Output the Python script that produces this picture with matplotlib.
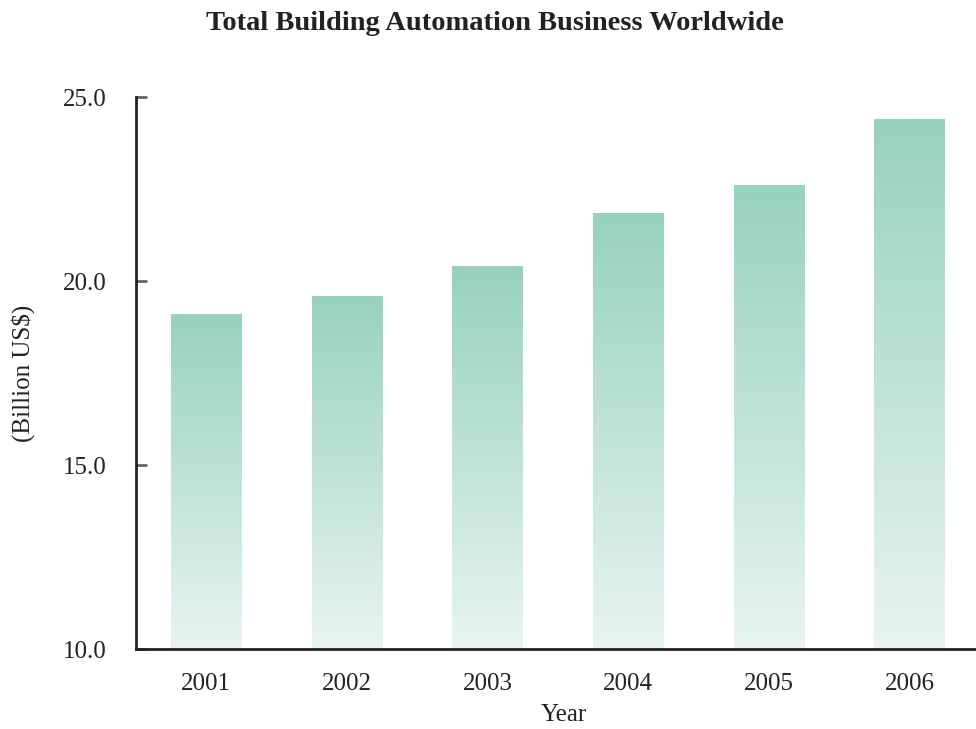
import matplotlib.pyplot as plt
import numpy as np
from matplotlib.colors import LinearSegmentedColormap

years = ['2001', '2002', '2003', '2004', '2005', '2006']
revenue = [19.1, 19.6, 20.4, 21.85, 22.6, 24.4]
yticks = [10.0, 15.0, 20.0, 25.0]

plt.rcParams['font.family'] = ['Liberation Serif', 'DejaVu Serif']

fig = plt.figure(figsize=(9.76, 7.29), dpi=100)
ax = fig.add_axes([0.1393, 0.1097, 0.8648, 0.757])

# light-to-green fade, top of each bar is the strongest shade
fade = LinearSegmentedColormap.from_list('fade', ['#e8f5f0', '#97d2be'])
grad = np.linspace(0, 1, 256).reshape(-1, 1)

x = np.arange(len(years))
bars = ax.bar(x, revenue, width=0.5, bottom=0, color='none', edgecolor='none')
for b, val in zip(bars, revenue):
    x0 = b.get_x()
    im = ax.imshow(grad, cmap=fade, origin='lower', aspect='auto',
                   extent=(x0, x0 + b.get_width(), 10, val), zorder=2)
    im.set_clip_path(b)

ax.set_xlim(-0.5, 5.5)
ax.set_ylim(10, 25)
ax.set_xticks(x)
ax.set_xticklabels(years)
ax.set_yticks(yticks)
ax.set_yticklabels([f'{t:.1f}' for t in yticks])

ax.tick_params(axis='x', length=0, pad=17, labelsize=18, colors='#222222')
ax.tick_params(axis='y', direction='in', length=8, width=2, color='#666666',
               pad=21, labelsize=18, labelcolor='#222222')

for side in ['top', 'right']:
    ax.spines[side].set_visible(False)
for side in ['left', 'bottom']:
    ax.spines[side].set_linewidth(2)
    ax.spines[side].set_color('#222222')

ax.set_ylabel('(Billion US$)', fontsize=18, labelpad=20, color='#222222')
fig.text(0.578, 0.004, 'Year', ha='center', va='bottom',
         fontsize=18, color='#222222')
fig.text(0.507, 0.968, 'Total Building Automation Business Worldwide',
         ha='center', va='center', fontsize=20.5, fontweight='bold', color='#222222')

fig.savefig('out.png', dpi=100)
